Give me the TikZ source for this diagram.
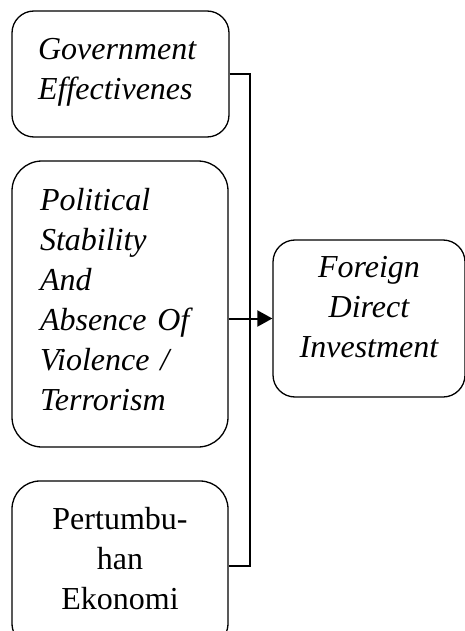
\documentclass[tikz,border=0pt]{standalone}
\usepackage{fontspec}
\setmainfont{Liberation Serif}
\usetikzlibrary{arrows.meta}
\definecolor{boxblack}{RGB}{0,0,0}
\definecolor{bgwhite}{RGB}{255,255,255}

\begin{document}
\begin{tikzpicture}[x=1pt,y=-1pt,
  varbox/.style={draw=boxblack,line width=1.3pt,rounded corners=22pt,inner sep=0pt,font=\fontsize{32}{40}\selectfont},
  linkline/.style={draw=boxblack,line width=2pt}]
\useasboundingbox[fill=bgwhite] (0,0) rectangle (465,631); %Same size as the original picture
\clip (0,0) rectangle (465,631); %Lower box and right box run past the border
%Independent variables on the left (text depth lifts the lines a little)
\node[varbox,minimum width=217pt,minimum height=126pt,text width=165pt,align=left,text depth=50pt] (gov) at (120.5,74)
  {\itshape Government\\Effectivenes};
\node[varbox,rounded corners=30pt,minimum width=216pt,minimum height=286pt,text width=160pt,align=left,text depth=210pt] (pol) at (120,304)
  {\itshape Political\\Stability\\And\\Absence Of\\Violence /\\Terrorism};
\node[varbox,rounded corners=28pt,minimum width=216pt,minimum height=170pt,text width=160pt,align=center,text depth=96pt] (eko) at (120,566)
  {Pertumbu-\\han\\Ekonomi};
%Dependent variable on the right
\node[varbox,minimum width=192pt,minimum height=157pt,text width=150pt,align=center,text depth=104pt] (fdi) at (369,318.5)
  {\itshape Foreign\\Direct\\Investment};
%Connectors
\coordinate (bus) at (250,0); %Vertical line joining the three boxes
\draw[linkline] (gov.east) -| (bus |- eko.east) -- (eko.east);
\draw[linkline,-{Triangle[length=15pt,width=16pt]}] (pol.east |- fdi.west) -- (fdi.west);
\end{tikzpicture}
\end{document}
